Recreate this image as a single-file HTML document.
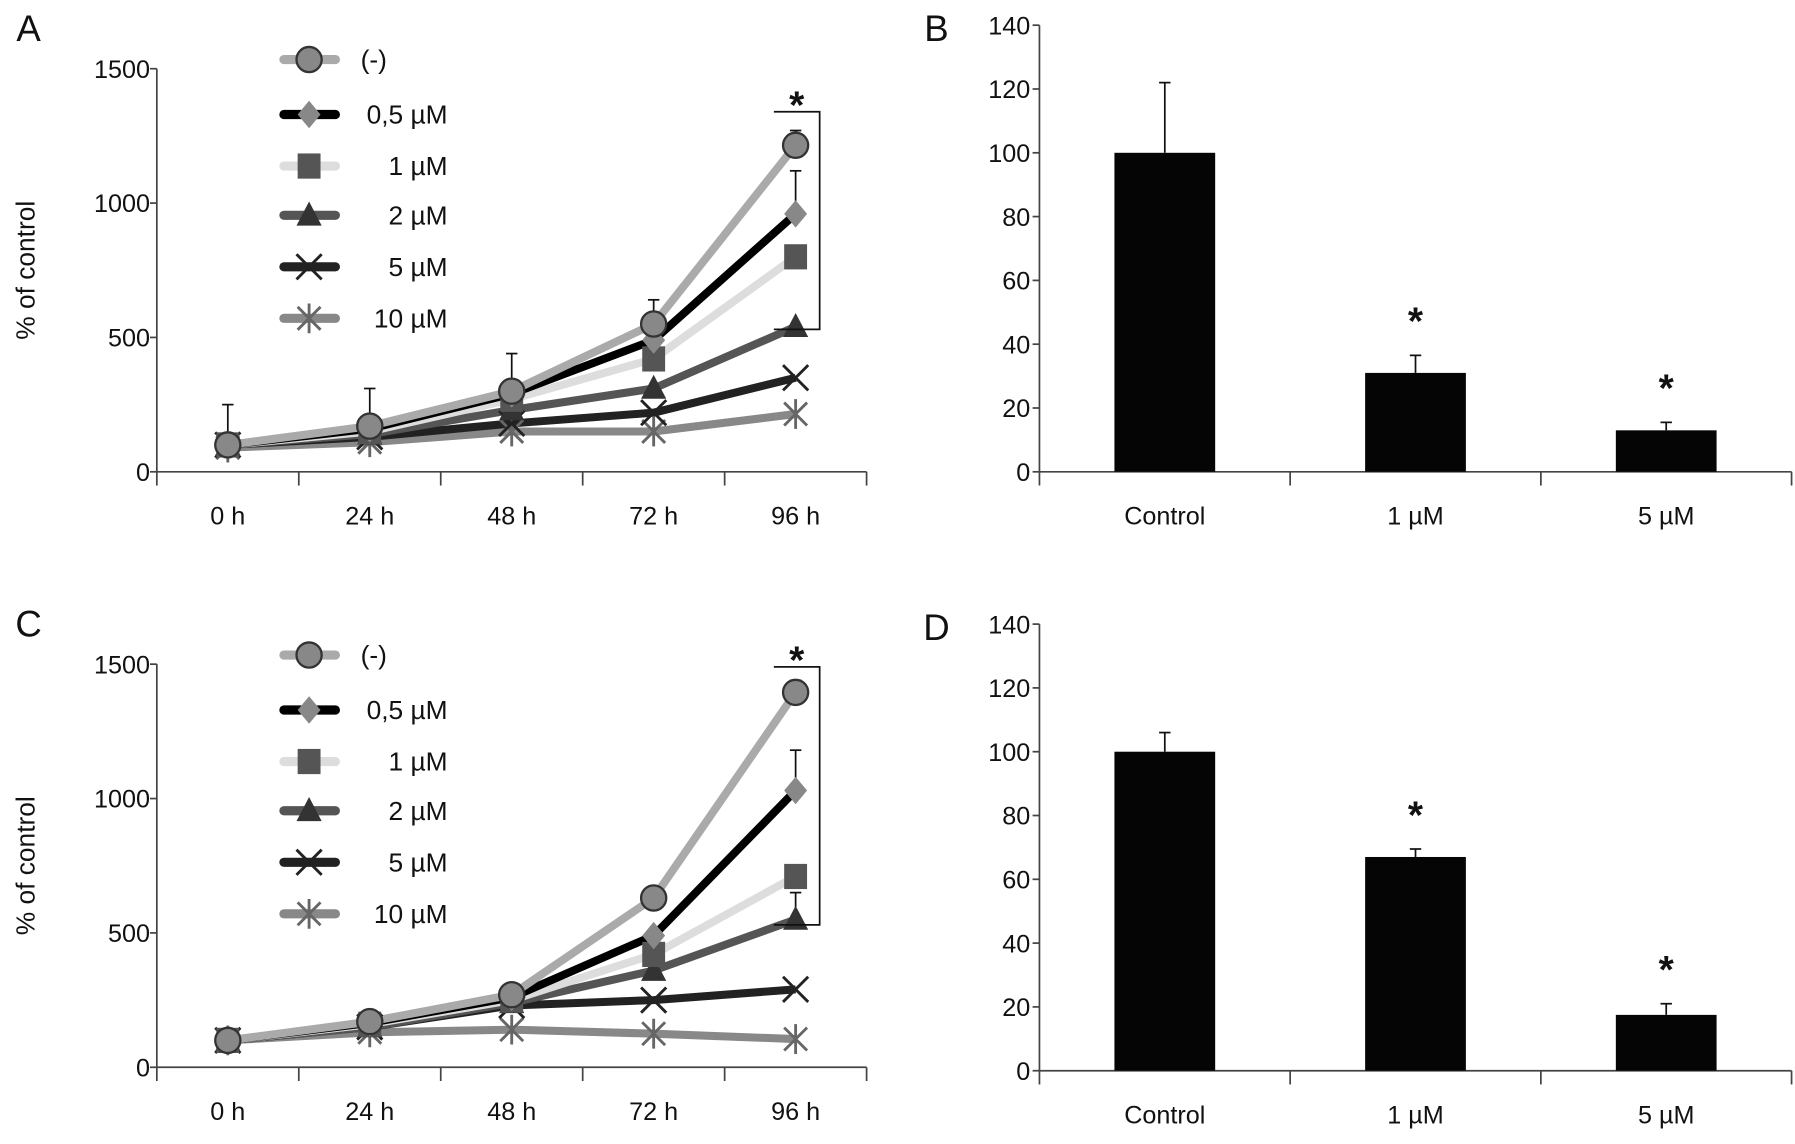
<!DOCTYPE html>
<html><head><meta charset="utf-8"><style>
html,body{margin:0;padding:0;background:#fff;}
svg{display:block;font-family:"Liberation Sans",sans-serif;}
</style></head><body>
<svg id="fig" width="1795" height="1144" viewBox="0 0 1568 999" preserveAspectRatio="none" xmlns="http://www.w3.org/2000/svg"></svg>
<script>
// ---- data ----
const timeLabels = ["0 h","24 h","48 h","72 h","96 h"];
const seriesNames = ["(-)","0,5 µM","1 µM","2 µM","5 µM","10 µM"];
const lineTicks = [0,500,1000,1500];
const A_ctrl = [100,170,300,550,1215];
const A_05 = [100,160,290,490,960];
const A_1 = [100,150,270,420,800];
const A_2 = [100,140,230,310,540];
const A_5 = [100,130,180,220,350];
const A_10 = [90,110,150,150,215];
const A_errCtrl = [250,310,440,640,1270];
const A_err05 = [null,null,null,null,1120];
const C_ctrl = [100,170,270,630,1395];
const C_05 = [100,165,260,490,1030];
const C_1 = [100,160,250,420,710];
const C_2 = [100,150,240,360,550];
const C_5 = [100,150,230,250,290];
const C_10 = [100,130,140,125,105];
const C_errCtrl = [null,null,null,null,1440];
const C_err05 = [null,null,null,null,1180];
const C_err2 = [null,null,null,null,650];
const barCats = ["Control","1 µM","5 µM"];
const barTicks = [0,20,40,60,80,100,120,140];
const B_vals = [100,31,13];
const B_err = [122,36.5,15.5];
const B_sig = [false,true,true];
const D_vals = [100,67,17.5];
const D_err = [106,69.5,21];
const D_sig = [false,true,true];

const svg = document.getElementById('fig');
const NS = "http://www.w3.org/2000/svg";
function mk(tag, attrs, parent, name, inter){
  const e = document.createElementNS(NS, tag);
  for (const k in attrs) e.setAttribute(k, attrs[k]);
  
  
  (parent||svg).appendChild(e);
  return e;
}
function txt(x,y,s,size,anchor,parent,name,bold){
  const t = mk('text',{x:x,y:y,'font-size':size,'text-anchor':anchor||'middle',fill:'#111','font-weight':bold?'bold':'normal'},parent,name,false);
  t.textContent = s; return t;
}

const styles = [
  {line:'#aaaaaa', mfill:'#888', m:'circle'},
  {line:'#000000', mfill:'#888', m:'diamond'},
  {line:'#dddddd', mfill:'#555', m:'square'},
  {line:'#555555', mfill:'#333', m:'triangle'},
  {line:'#222222', mfill:'#222', m:'x'},
  {line:'#888888', mfill:'#666', m:'star'}
];
function marker(g,type,x,y,fill,name){
  let e;
  if(type==='circle') e = mk('circle',{cx:x,cy:y,r:11,fill:fill,stroke:'#333','stroke-width':2},g,name,false);
  else if(type==='diamond') e = mk('path',{d:`M${x} ${y-12}L${x+10} ${y}L${x} ${y+12}L${x-10} ${y}Z`,fill:fill},g,name,false);
  else if(type==='square') e = mk('rect',{x:x-10,y:y-11,width:20,height:22,fill:fill},g,name,false);
  else if(type==='triangle') e = mk('path',{d:`M${x} ${y-12}L${x+11} ${y+9}L${x-11} ${y+9}Z`,fill:fill},g,name,false);
  else if(type==='x') e = mk('path',{d:`M${x-11} ${y-11}L${x+11} ${y+11}M${x+11} ${y-11}L${x-11} ${y+11}`,stroke:fill,'stroke-width':2.5,fill:'none'},g,name,false);
  else e = mk('path',{d:`M${x-10} ${y-10}L${x+10} ${y+10}M${x+10} ${y-10}L${x-10} ${y+10}M${x} ${y-13}L${x} ${y+13}`,stroke:fill,'stroke-width':2.5,fill:'none'},g,name,false);
  return e;
}

function linePanel(id, letter, top, series, errs, bracketTop, bracketBot){
  const g = mk('g',{},svg,'panel-'+id,false);
  const x0=137, x1=757, yTop=top+60, yBot=top+412;
  const sy = v => yBot - v/1500*(yBot-yTop);
  const step=(x1-x0)/5;
  const sx = i => x0 + step*(i+0.5);
  txt(25,top+36,letter,32,'middle',g,'panel-label-'+id);
  mk('line',{x1:x0,y1:yTop,x2:x0,y2:yBot,stroke:'#444','stroke-width':1.5},g,'y-axis',false);
  mk('line',{x1:x0,y1:yBot,x2:x1,y2:yBot,stroke:'#444','stroke-width':1.5},g,'x-axis',false);
  lineTicks.forEach(v=>{
    mk('line',{x1:x0-6,y1:sy(v),x2:x0,y2:sy(v),stroke:'#444','stroke-width':1.5},g,'y-tick',false);
    txt(x0-6,sy(v)+8,String(v),22,'end',g,'y-tick-label');
  });
  for(let i=0;i<=5;i++) mk('line',{x1:x0+step*i,y1:yBot,x2:x0+step*i,y2:yBot+12,stroke:'#444','stroke-width':1.5},g,'x-tick',false);
  timeLabels.forEach((s,i)=>txt(sx(i),yBot+46,s,22,'middle',g,'x-tick-label'));
  const yt = txt(0,0,'% of control',23,'middle',g,'y-axis-title');
  yt.setAttribute('transform',`translate(30,${(yTop+yBot)/2}) rotate(-90)`);
  errs.forEach(([arr,vals])=>{
    arr.forEach((e,i)=>{ if(e==null) return;
      mk('line',{x1:sx(i),y1:sy(vals[i]),x2:sx(i),y2:sy(e),stroke:'#111','stroke-width':1.5},g,'error-bar',false);
      mk('line',{x1:sx(i)-5,y1:sy(e),x2:sx(i)+5,y2:sy(e),stroke:'#111','stroke-width':1.5},g,'error-cap',false);
    });
  });
  for(let s=series.length-1;s>=0;s--){
    const pts = series[s].map((v,i)=>sx(i)+','+sy(v)).join(' ');
    mk('polyline',{points:pts,fill:'none',stroke:styles[s].line,'stroke-width':7,'stroke-linejoin':'round'},g,'series-line-'+s,false);
  }
  for(let s=series.length-1;s>=0;s--){
    series[s].forEach((v,i)=>marker(g,styles[s].m,sx(i),sy(v),styles[s].mfill,'point-'+s));
  }
  mk('path',{d:`M676 ${sy(bracketTop)}H716V${sy(bracketBot)}H676`,fill:'none',stroke:'#111','stroke-width':1.5},g,'significance-bracket',false);
  txt(696,sy(bracketTop)+6,'*',34,'middle',g,'significance-star',true);
  const ly=[52,100,145,188,233,278];
  seriesNames.forEach((n,s)=>{
    const lg = mk('g',{},g,'legend-entry',false);
    mk('line',{x1:248,y1:top+ly[s],x2:293,y2:top+ly[s],stroke:styles[s].line,'stroke-width':8,'stroke-linecap':'round'},lg,'legend-line',false);
    marker(lg,styles[s].m,270,top+ly[s],styles[s].mfill,'legend-marker');
    if(s===0) txt(315,top+ly[s]+8,n,23,'start',lg,'legend-label');
    else txt(391,top+ly[s]+8,n,23,'end',lg,'legend-label');
  });
}

function barPanel(id, letter, top, vals, errs, sig){
  const g = mk('g',{},svg,'panel-'+id,false);
  const x0=908, x1=1565, yTop=top+22, yBot=top+412;
  const sy = v => yBot - v/140*(yBot-yTop);
  const step=(x1-x0)/3;
  const sx = i => x0+step*(i+0.5);
  txt(818,top+36,letter,32,'middle',g,'panel-label-'+id);
  mk('line',{x1:x0,y1:yTop,x2:x0,y2:yBot+12,stroke:'#444','stroke-width':1.5},g,'y-axis',false);
  mk('line',{x1:x0,y1:yBot,x2:x1,y2:yBot,stroke:'#444','stroke-width':1.5},g,'x-axis',false);
  barTicks.forEach(v=>{
    mk('line',{x1:x0-6,y1:sy(v),x2:x0,y2:sy(v),stroke:'#444','stroke-width':1.5},g,'y-tick',false);
    txt(x0-8,sy(v)+8,String(v),22,'end',g,'y-tick-label');
  });
  for(let i=1;i<=3;i++) mk('line',{x1:x0+step*i,y1:yBot,x2:x0+step*i,y2:yBot+12,stroke:'#444','stroke-width':1.5},g,'x-tick',false);
  barCats.forEach((c,i)=>txt(sx(i),yBot+46,c,22,'middle',g,'x-tick-label'));
  vals.forEach((v,i)=>{
    mk('line',{x1:sx(i),y1:sy(v),x2:sx(i),y2:sy(errs[i]),stroke:'#111','stroke-width':1.5},g,'error-bar',false);
    mk('line',{x1:sx(i)-5,y1:sy(errs[i]),x2:sx(i)+5,y2:sy(errs[i]),stroke:'#111','stroke-width':1.5},g,'error-cap',false);
    mk('rect',{x:sx(i)-44,y:sy(v),width:88,height:yBot-sy(v),fill:'#050505'},g,'bar-'+i,false);
    if(sig[i]) txt(sx(i),sy(errs[i])-18,'*',34,'middle',g,'significance-star',true);
  });
}

linePanel('a','A',0,[A_ctrl,A_05,A_1,A_2,A_5,A_10],[[A_errCtrl,A_ctrl],[A_err05,A_05]],1340,530);
linePanel('c','C',520,[C_ctrl,C_05,C_1,C_2,C_5,C_10],[[C_errCtrl,C_ctrl],[C_err05,C_05],[C_err2,C_2]],1490,530);
barPanel('b','B',0,B_vals,B_err,B_sig);
barPanel('d','D',523,D_vals,D_err,D_sig);
</script>
</body></html>
